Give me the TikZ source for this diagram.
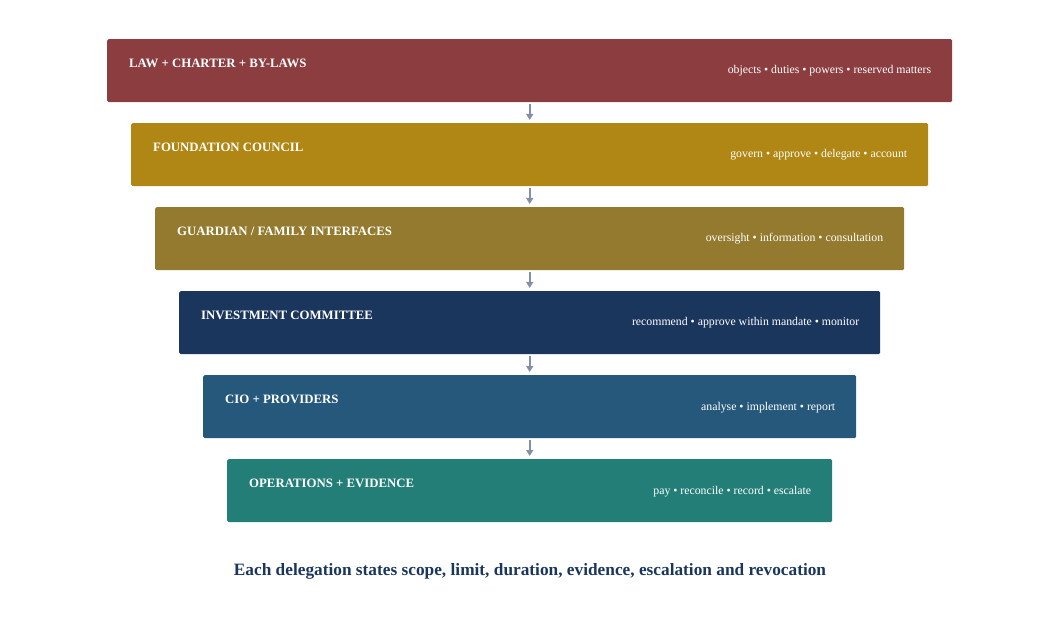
\documentclass[tikz,border=0pt]{standalone}
\usepackage{fontspec}
\setmainfont{Liberation Serif}
\usepackage{xcolor}
\usetikzlibrary{arrows.meta}

\definecolor{lawred}{HTML}{8B3D40}
\definecolor{councilgold}{HTML}{B08614}
\definecolor{guardolive}{HTML}{937A2E}
\definecolor{investnavy}{HTML}{1B365D}
\definecolor{cioblue}{HTML}{25587A}
\definecolor{opsteal}{HTML}{237E78}
\definecolor{flowgray}{HTML}{8391A8}

\tikzset{
  tier/.style={rounded corners=1.5pt,inner sep=0pt,minimum height=63pt,anchor=north west},
  tiertitle/.style={text=white,font=\bfseries\fontsize{12.8}{15}\selectfont,inner sep=0pt,anchor=base west},
  tiertext/.style={text=white,font=\fontsize{11.8}{14}\selectfont,inner sep=0pt,anchor=base east},
  flow/.style={draw=flowgray,line width=1.8pt,-{Triangle[length=6pt,width=7pt]},shorten <=2pt,shorten >=3pt}
}

\begin{document}
\begin{tikzpicture}[x=1pt,y=-1pt]
\useasboundingbox (0,0) rectangle (1060,620);
\node[tier,fill=lawred,minimum width=845pt] (law) at (107,39) {};
\node[tiertitle] (lawtitle) at ([shift={(22pt,-28.8pt)}]law.north west) {LAW + CHARTER + BY-LAWS};
\node[tiertext] (lawtext) at ([shift={(-21pt,-35pt)}]law.north east) {objects • duties • powers • reserved matters};

\node[tier,fill=councilgold,minimum width=797pt] (council) at (131,123) {};
\node[tiertitle] (counciltitle) at ([shift={(22pt,-28.8pt)}]council.north west) {FOUNDATION COUNCIL};
\node[tiertext] (counciltext) at ([shift={(-21pt,-35pt)}]council.north east) {govern • approve • delegate • account};

\node[tier,fill=guardolive,minimum width=749pt] (guard) at (155,207) {};
\node[tiertitle] (guardtitle) at ([shift={(22pt,-28.8pt)}]guard.north west) {GUARDIAN / FAMILY INTERFACES};
\node[tiertext] (guardtext) at ([shift={(-21pt,-35pt)}]guard.north east) {oversight • information • consultation};

\node[tier,fill=investnavy,minimum width=701pt] (invest) at (179,291) {};
\node[tiertitle] (investtitle) at ([shift={(22pt,-28.8pt)}]invest.north west) {INVESTMENT COMMITTEE};
\node[tiertext] (investtext) at ([shift={(-21pt,-35pt)}]invest.north east) {recommend • approve within mandate • monitor};

\node[tier,fill=cioblue,minimum width=653pt] (cio) at (203,375) {};
\node[tiertitle] (ciotitle) at ([shift={(22pt,-28.8pt)}]cio.north west) {CIO + PROVIDERS};
\node[tiertext] (ciotext) at ([shift={(-21pt,-35pt)}]cio.north east) {analyse • implement • report};

\node[tier,fill=opsteal,minimum width=605pt] (ops) at (227,459) {};
\node[tiertitle] (opstitle) at ([shift={(22pt,-28.8pt)}]ops.north west) {OPERATIONS + EVIDENCE};
\node[tiertext] (opstext) at ([shift={(-21pt,-35pt)}]ops.north east) {pay • reconcile • record • escalate};

\draw[flow] (law) -- (council);
\draw[flow] (council) -- (guard);
\draw[flow] (guard) -- (invest);
\draw[flow] (invest) -- (cio);
\draw[flow] (cio) -- (ops);

\node[anchor=base,inner sep=0pt,text=investnavy,font=\bfseries\fontsize{17.3}{20}\selectfont] (rule) at (530,575) {Each delegation states scope, limit, duration, evidence, escalation and revocation};
\end{tikzpicture}
\end{document}
